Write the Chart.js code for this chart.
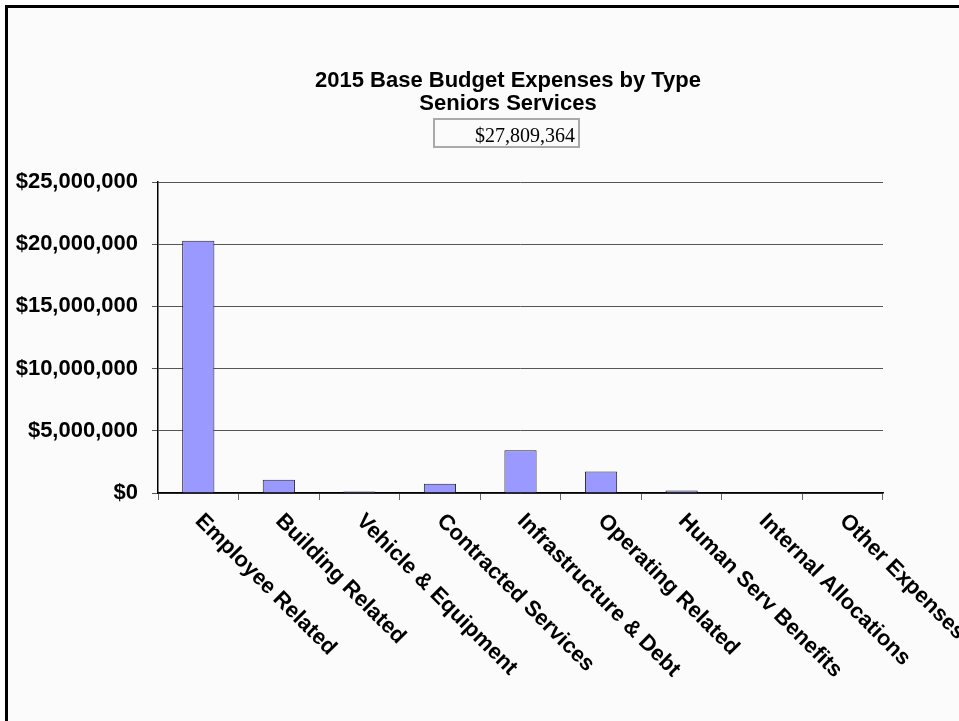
<!DOCTYPE html>
<html>
<head>
<meta charset="utf-8">
<script src="https://cdn.jsdelivr.net/npm/chart.js@4/dist/chart.umd.min.js"></script>
<style>
  html, body { margin: 0; padding: 0; background: #ffffff; overflow: hidden; }
  #frame {
    position: absolute; left: 5px; top: 5px; width: 1000px; height: 800px;
    border: 3px solid #000; background: #fbfbfb;
  }
  #wrap { position: absolute; left: 0; top: 0; width: 959px; height: 721px; }
</style>
</head>
<body>
<div id="frame"></div>
<div id="wrap"><canvas id="myChart" width="959" height="721"></canvas></div>
<script>
const categories = ['Employee Related', 'Building Related', 'Vehicle & Equipment', 'Contracted Services',
    'Infrastructure & Debt', 'Operating Related', 'Human Serv Benefits', 'Internal Allocations', 'Other Expenses'];
const expenses = [20280000, 1060000, 130000, 740000, 3440000, 1720000, 200000, 60000, 60000];
const yTicks = [0, 5000000, 10000000, 15000000, 20000000, 25000000];
const titleLines = ['2015 Base Budget Expenses by Type', 'Seniors Services'];
const totalLabel = '$27,809,364';

const ctx = document.getElementById('myChart');

// titles, total box and the slanted category labels are drawn here
const extras = {
    id: 'extras',
    afterDraw(chart) {
        const c = chart.ctx;
        const x = chart.scales.x;
        c.save();
        c.fillStyle = '#000';
        c.font = 'bold 22px "Liberation Sans", Arial, sans-serif';
        c.textAlign = 'center';
        c.textBaseline = 'alphabetic';
        c.fillText(titleLines[0], 508, 87);
        c.fillText(titleLines[1], 508, 110);

        c.strokeStyle = '#aaaaaa';
        c.lineWidth = 2;
        c.strokeRect(434, 119, 145, 28);
        c.font = '20px "Liberation Serif", "Times New Roman", serif';
        c.textAlign = 'right';
        c.fillText(totalLabel, 575, 142);

        c.font = 'bold 22px "Liberation Sans", Arial, sans-serif';
        c.textAlign = 'left';
        categories.forEach((label, i) => {
            const px = x.getPixelForValue(i);
            c.save();
            c.translate(px - 4, x.top + 29);
            c.rotate(Math.PI / 4);
            c.fillText(label, 0, 0);
            c.restore();
        });
        c.restore();
    }
};

const chart = new Chart(ctx, {
    type: 'bar',
    data: {
        labels: categories,
        datasets: [{
            data: expenses,
            backgroundColor: '#9999ff',
            borderColor: '#222222',
            borderWidth: 1,
            categoryPercentage: 1,
            barPercentage: 0.4
        }]
    },
    options: {
        responsive: false,
        animation: false,
        layout: { padding: { left: 0, top: 182, right: 76, bottom: 220 } },
        plugins: {
            legend: { display: false },
            title: { display: false },
            tooltip: { enabled: false }
        },
        scales: {
            x: {
                ticks: { display: false },
                grid: { drawOnChartArea: false, drawTicks: true, tickLength: 7, color: '#666', offset: true },
                border: { color: '#000', width: 1.5 },
                afterFit(scale) { scale.height = 8; }
            },
            y: {
                min: 0,
                max: 25000000,
                afterBuildTicks(scale) { scale.ticks = yTicks.map(v => ({ value: v })); },
                ticks: {
                    color: '#000',
                    padding: 14,
                    font: { family: '"Liberation Sans", Arial, sans-serif', size: 22, weight: 'bold' },
                    callback: (v) => '$' + Number(v).toLocaleString('en-US')
                },
                grid: { color: '#555', tickLength: 6, drawTicks: true },
                border: { color: '#000', width: 1.5 },
                afterFit(scale) { scale.width = 158; }
            }
        }
    },
    plugins: [extras]
});
</script>
</body>
</html>
